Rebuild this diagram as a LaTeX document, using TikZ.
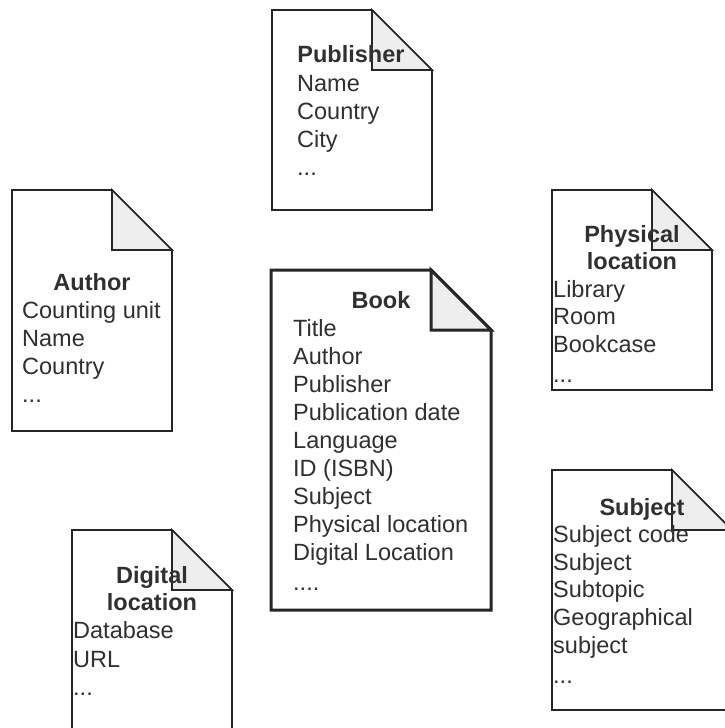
\documentclass[tikz,border=0pt]{standalone}
\usepackage{fontspec}
\setmainfont{Liberation Sans}
\definecolor{linecol}{HTML}{262626}
\definecolor{textcol}{HTML}{303030}
\definecolor{foldgray}{HTML}{EEEEEE}
\newcommand{\notebox}[5]{%
  \draw[#1] (#2,#3) -- ({#4-60},#3) -- (#4,{#3+60}) -- (#4,#5) -- (#2,#5) -- cycle;
  \draw[#1,fill=foldgray] ({#4-60},#3) -- ({#4-60},{#3+60}) -- (#4,{#3+60}) -- cycle;
}
\tikzset{
  plainbox/.style={draw=linecol,line width=1.7pt,fill=white},
  thickbox/.style={draw=linecol,line width=3pt,fill=white},
  item/.style={anchor=base west,inner sep=0pt,text=textcol,font=\fontsize{23.5}{28}\selectfont},
  title/.style={anchor=base,inner sep=0pt,text=textcol,font=\fontsize{23.5}{28}\selectfont\bfseries},
}
\begin{document}
\begin{tikzpicture}[x=1pt,y=-1pt]
\useasboundingbox (0,0) rectangle (725,728);
\clip (0,0) rectangle (725,728);
\fill[white] (0,0) rectangle (725,728);
% Publisher
\notebox{plainbox}{272}{10}{432}{210}
\node[title] (pubT) at (351,62) {Publisher};
\node[item] (pub1) at (297,91) {Name};
\node[item] (pub2) at (297,119) {Country};
\node[item] (pub3) at (297,147) {City};
\node[item] (pub4) at (297,175) {...};
% Author
\notebox{plainbox}{12}{190}{172}{431}
\node[title] (autT) at (92,290) {Author};
\node[item] (aut1) at (22,318) {Counting unit};
\node[item] (aut2) at (22,346) {Name};
\node[item] (aut3) at (22,374) {Country};
\node[item] (aut4) at (22,402) {...};
% Book
\notebox{thickbox}{271}{270}{491}{610}
\node[title] (bookT) at (381,308) {Book};
\node[item] (book1) at (293,336) {Title};
\node[item] (book2) at (293,364) {Author};
\node[item] (book3) at (293,392) {Publisher};
\node[item] (book4) at (293,420) {Publication date};
\node[item] (book5) at (293,448) {Language};
\node[item] (book6) at (293,476) {ID (ISBN)};
\node[item] (book7) at (293,504) {Subject};
\node[item] (book8) at (293,532) {Physical location};
\node[item] (book9) at (293,560) {Digital Location};
\node[item] (book10) at (293,590) {....};
% Physical location
\notebox{plainbox}{552}{190}{712}{390}
\node[title] (phyT1) at (632,242) {Physical};
\node[title] (phyT2) at (632,269) {location};
\node[item] (phy1) at (553,297) {Library};
\node[item] (phy2) at (553,324) {Room};
\node[item] (phy3) at (553,352) {Bookcase};
\node[item] (phy4) at (553,382) {...};
% Subject
\notebox{plainbox}{552}{470}{732}{710}
\node[title] (subT) at (642,515) {Subject};
\node[item] (sub1) at (553,542) {Subject code};
\node[item] (sub2) at (553,570) {Subject};
\node[item] (sub3) at (553,597) {Subtopic};
\node[item] (sub4) at (553,625) {Geographical};
\node[item] (sub5) at (553,653) {subject};
\node[item] (sub6) at (553,683) {...};
% Digital location
\notebox{plainbox}{72}{530}{232}{760}
\node[title] (digT1) at (152,583) {Digital};
\node[title] (digT2) at (152,610) {location};
\node[item] (dig1) at (73,638) {Database};
\node[item] (dig2) at (73,667) {URL};
\node[item] (dig3) at (73,695) {...};
\end{tikzpicture}
\end{document}
